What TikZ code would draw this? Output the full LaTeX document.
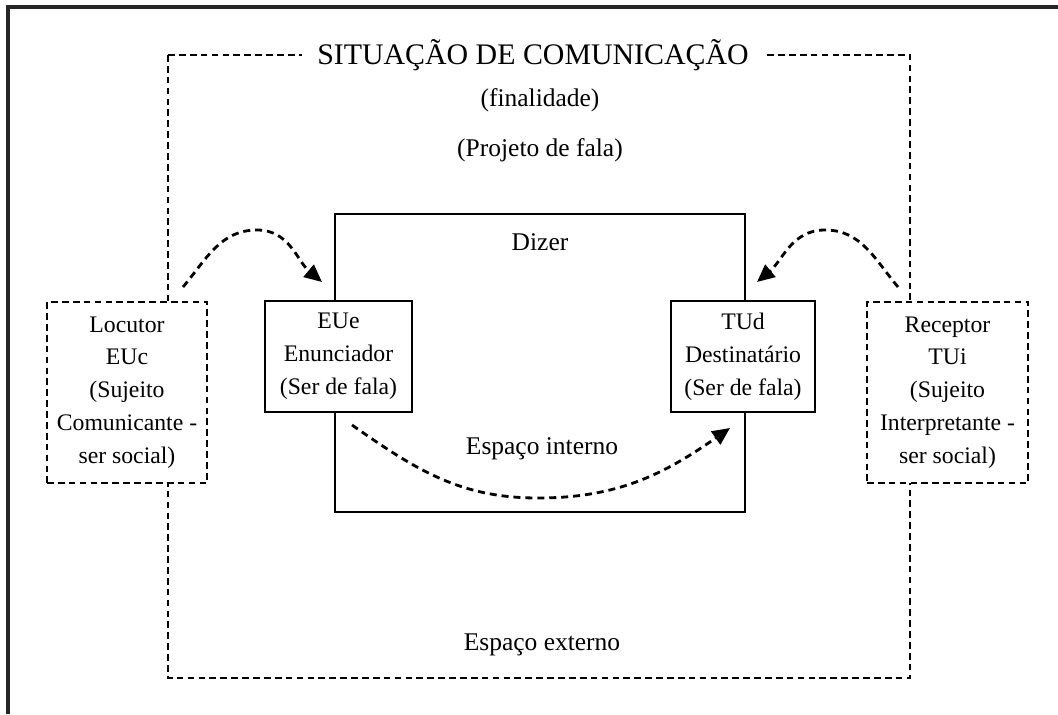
\documentclass[tikz,border=0pt]{standalone}
\usepackage{fontspec}
\setmainfont{Liberation Serif}
\usetikzlibrary{arrows.meta}

\begin{document}
\begin{tikzpicture}[x=0.02cm,y=-0.02cm,
        every node/.style={font=\fontsize{14.5}{18.7}\selectfont, align=center},
        boxtext/.style={font=\fontsize{13.5}{18.7}\selectfont},
        solidbox/.style={draw, line width=1.5pt, fill=white, inner sep=0pt, boxtext},
        dashbox/.style={draw, line width=1.4pt, fill=white, inner sep=0pt, boxtext, dash pattern=on 3.8pt off 2.4pt},
        dashline/.style={line width=1.4pt, dash pattern=on 3.8pt off 2.4pt},
        flow/.style={line width=1.6pt, dash pattern=on 4pt off 2.8pt, -{Triangle[length=10pt,width=9pt]}}]
    \useasboundingbox (0,0) rectangle (1058,714);

    % moldura
    \draw[line width=2.2pt, black!85] (8,714) -- (8,7) -- (1058,7);

    % espaco externo
    \draw[dashline] (168,55) rectangle (910,678);
    \node[fill=white, inner xsep=0.3cm, font=\fontsize{17}{20}\selectfont] (situacao) at (533,55) {SITUAÇÃO DE COMUNICAÇÃO};
    \node (finalidade) at (540,100) {(finalidade)};
    \node (projeto) at (540,150) {(Projeto de fala)};
    \node (externo) at (542,645) {Espaço externo};

    % espaco interno
    \node[solidbox, minimum width=8.2cm, minimum height=5.96cm] (dizer) at (540,363) {};
    \node (dizerlbl) at (540,242) {Dizer};
    \node (interno) at (542,449) {Espaço interno};

    \node[solidbox, minimum width=2.94cm, minimum height=2.22cm] (eue) at (338.5,356.5) {EUe\\Enunciador\\(Ser de fala)};
    \node[solidbox, minimum width=2.88cm, minimum height=2.22cm] (tud) at (743,356.5) {TUd\\Destinatário\\(Ser de fala)};

    \node[dashbox, minimum width=3.2cm, minimum height=3.62cm] (locutor) at (127,392.5) {Locutor\\EUc\\(Sujeito\\Comunicante -\\ser social)};
    \node[dashbox, minimum width=3.22cm, minimum height=3.62cm] (receptor) at (947.5,392.5) {Receptor\\TUi\\(Sujeito\\Interpretante -\\ser social)};

    % setas
    \coordinate (locstart) at (183,287);
    \coordinate (lpeak) at (257,230);
    \coordinate (eueend) at (322,282);
    \coordinate (recstart) at (898,287);
    \coordinate (rpeak) at (825,230);
    \coordinate (tudend) at (757,282);
    \coordinate (euestart) at (352,425);
    \coordinate (ivale) at (538,498);
    \coordinate (tudin) at (730,428);

    \draw[flow] (locstart) to[out=50,in=180] (lpeak) to[out=0,in=140] (eueend);
    \draw[flow] (recstart) to[out=130,in=0] (rpeak) to[out=180,in=40] (tudend);
    \draw[flow] (euestart) to[out=-35,in=180] (ivale) to[out=0,in=-145] (tudin);
\end{tikzpicture}
\end{document}
